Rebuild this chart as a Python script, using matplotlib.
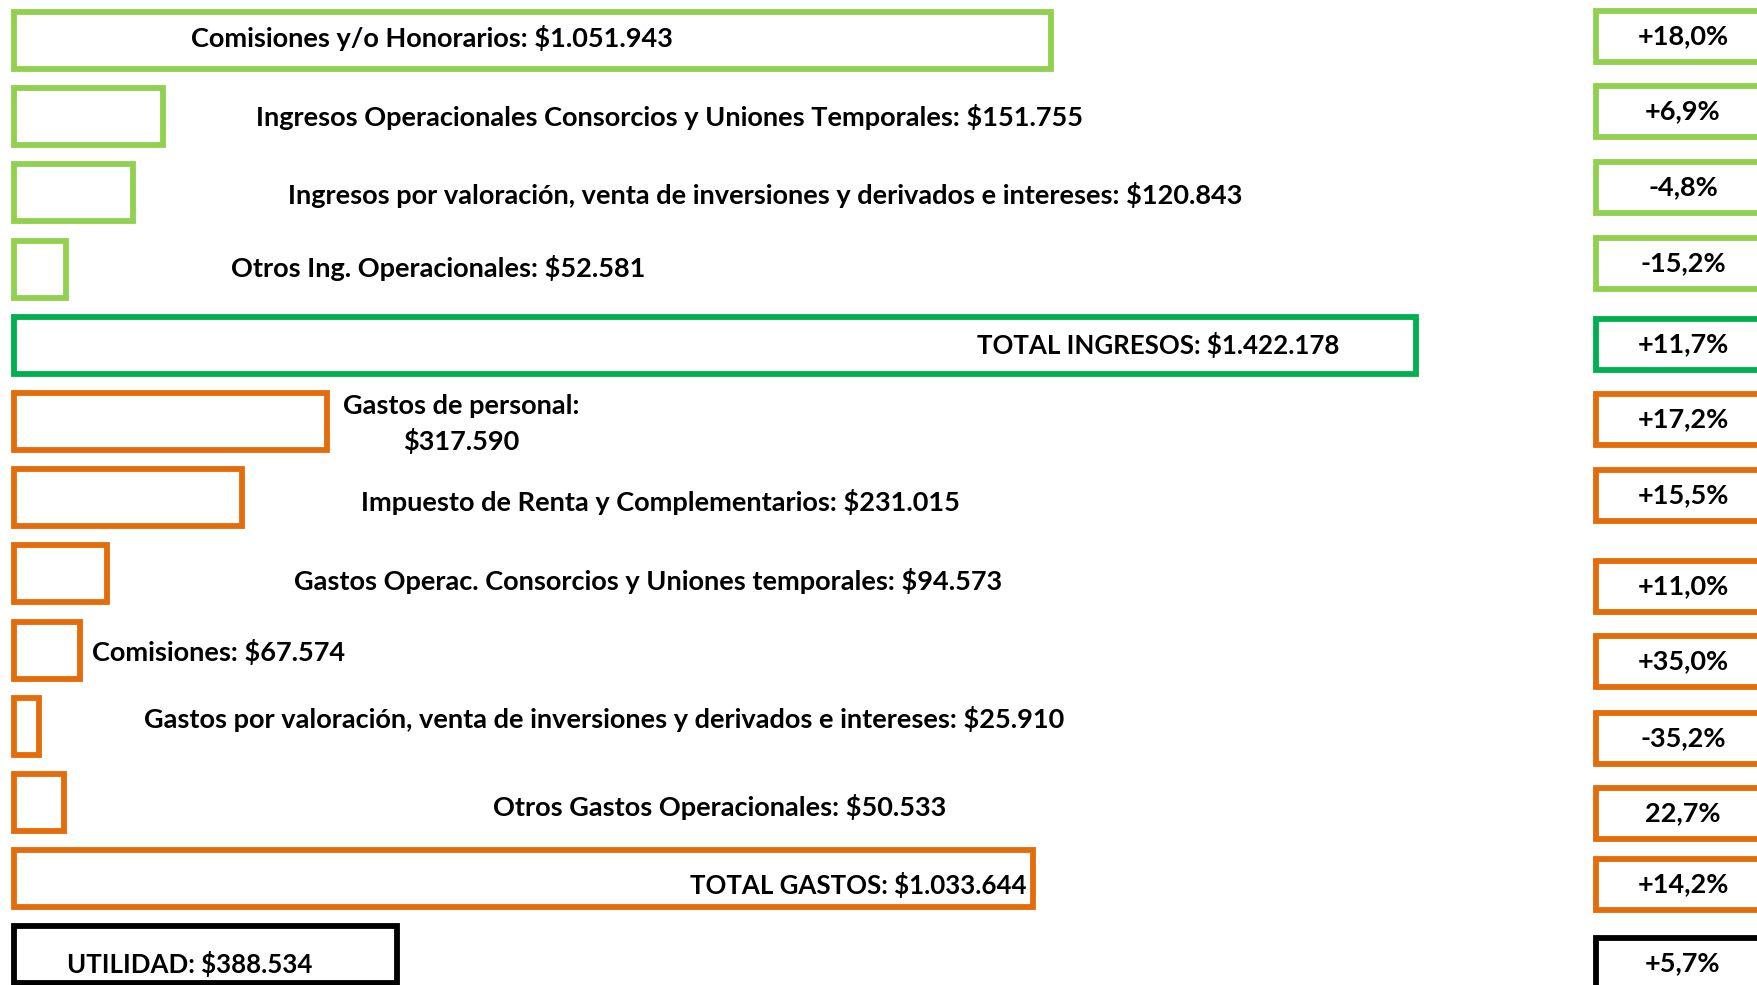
import numpy as np
import matplotlib
matplotlib.use("Agg")
from matplotlib import pyplot as plt
from matplotlib.patches import Rectangle

# values in millions of pesos (as printed)
labels = ["Comisiones y/o Honorarios: $1.051.943",
          "Ingresos Operacionales Consorcios y Uniones Temporales: $151.755",
          "Ingresos por valoración, venta de inversiones y derivados e intereses: $120.843",
          "Otros Ing. Operacionales: $52.581",
          "TOTAL INGRESOS: $1.422.178",
          "Gastos de personal:\n$317.590",
          "Impuesto de Renta y Complementarios: $231.015",
          "Gastos Operac. Consorcios y Uniones temporales: $94.573",
          "Comisiones: $67.574",
          "Gastos por valoración, venta de inversiones y derivados e intereses: $25.910",
          "Otros Gastos Operacionales: $50.533",
          "TOTAL GASTOS: $1.033.644",
          "UTILIDAD: $388.534"]
values = [1051943, 151755, 120843, 52581, 1422178,
          317590, 231015, 94573, 67574, 25910, 50533, 1033644, 388534]
changes = ["+18,0%", "+6,9%", "-4,8%", "-15,2%", "+11,7%",
           "+17,2%", "+15,5%", "+11,0%", "+35,0%", "-35,2%", "22,7%", "+14,2%", "+5,7%"]
groups = ["ing", "ing", "ing", "ing", "tot_ing",
          "gas", "gas", "gas", "gas", "gas", "gas", "gas", "util"]

colors = {"ing": "#92D050", "tot_ing": "#00B050", "gas": "#E46C0A", "util": "#000000"}

# layout (pixels of the 1758x985 canvas)
W, H = 1758, 985
row_y = 40.5 + 76.2 * np.arange(len(values))
label_x = [432, 670, 765, 438, 1158, 461, 660, 648, 219, 604, 720, 858, 190]
label_y = [38, 116.5, 195, 268, 345, 424, 502, 581, 652, 718.5, 807, 884.5, 964]
label_size = [19.5] * 4 + [18.6] + [19.5] * 6 + [18.6, 18.6]
pct_y = [36, 111, 187, 263, 344, 419, 495, 586, 661, 738, 813, 884, 963]

plt.rcParams['font.family'] = ['Lato', 'DejaVu Sans']
fig = plt.figure(figsize=(W / 100, H / 100), dpi=100)

# bars in value units
ax = fig.add_axes([0, 0, 1, 1])
px = 1014.0  # value units per pixel
ax.set_xlim(-13.8 * px, (W - 13.8) * px)
ax.set_ylim(H, 0)
ax.axis('off')
ax.barh(row_y, values, height=57, left=0, color='white',
        edgecolor=[colors[g] for g in groups], linewidth=4.2)

# overlay for text and change boxes
ax2 = fig.add_axes([0, 0, 1, 1])
ax2.set_xlim(0, W)
ax2.set_ylim(H, 0)
ax2.axis('off')
ax2.patch.set_visible(False)

for lab, x, y, s in zip(labels, label_x, label_y, label_size):
    ax2.text(x, y, lab, ha='center', va='center', fontsize=s, fontweight='bold',
             linespacing=1.45)

for ch, y, g in zip(changes, pct_y, groups):
    ax2.add_patch(Rectangle((1596, y - 25.5), 175, 51, facecolor='white',
                            edgecolor=colors[g], linewidth=4.2, clip_on=True))
    ax2.text(1683, y, ch, ha='center', va='center', fontsize=19.5, fontweight='bold')

fig.savefig("out.png", dpi=100)
